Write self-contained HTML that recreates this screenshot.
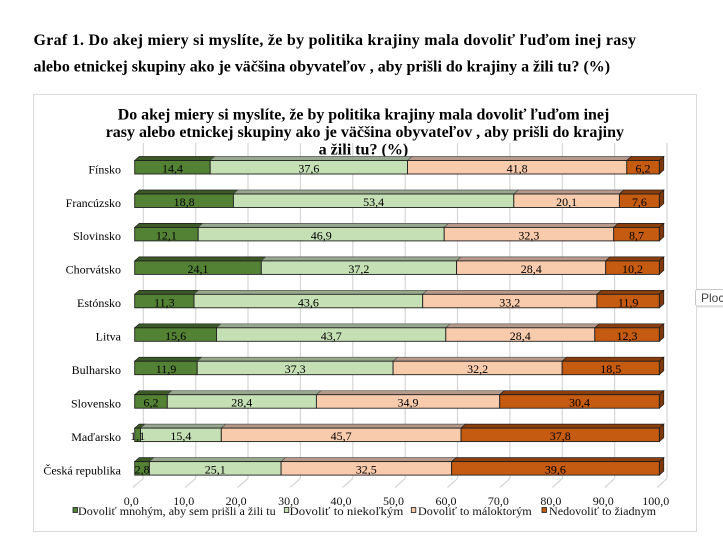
<!DOCTYPE html>
<html>
<head>
<meta charset="utf-8">
<style>
html,body{margin:0;padding:0;background:#fff;}
svg{display:block;}
.f1{fill:#548235;stroke:#1e1e1e;stroke-width:0.9}
.f2{fill:#C5E0B4;stroke:#1e1e1e;stroke-width:0.9}
.f3{fill:#F8CBAD;stroke:#1e1e1e;stroke-width:0.9}
.f4{fill:#C55A11;stroke:#1e1e1e;stroke-width:0.9}
.t1{fill:#3b5a26;stroke:#1e1e1e;stroke-width:0.7}
.t2{fill:#97a88c;stroke:#555;stroke-width:0.7}
.t3{fill:#b7998a;stroke:#555;stroke-width:0.7}
.t4{fill:#8c3f0c;stroke:#1e1e1e;stroke-width:0.7}
.s4{fill:#7d380b;stroke:#1e1e1e;stroke-width:0.7}
.v{font-family:"Liberation Serif",serif;font-size:12px;fill:#000;text-anchor:middle}
.c{font-family:"Liberation Serif",serif;font-size:12px;fill:#000;text-anchor:end}
.tk{font-family:"Liberation Serif",serif;font-size:12px;fill:#111;text-anchor:middle}
.lg{font-family:"Liberation Serif",serif;font-size:12px;fill:#111}
.h{font-family:"Liberation Serif",serif;font-size:16px;font-weight:bold;fill:#000}
.g{stroke:#d6d6d6;stroke-width:1.2}
</style>
</head>
<body>
<svg width="723" height="548" viewBox="0 0 723 548" xmlns="http://www.w3.org/2000/svg">
<rect x="0" y="0" width="723" height="548" fill="#fff"/>

<!-- header -->
<text class="h" x="33.5" y="45" textLength="602.5" lengthAdjust="spacing">Graf 1. Do akej miery si myslíte, že by politika krajiny mala dovoliť ľuďom inej rasy</text>
<text class="h" x="33.5" y="71.5" textLength="576.5" lengthAdjust="spacingAndGlyphs">alebo etnickej skupiny ako je väčšina obyvateľov , aby prišli do krajiny a žili tu? (%)</text>

<!-- chart box -->
<rect x="33.5" y="94.5" width="663" height="437" fill="#fff" stroke="#d9d9d9" stroke-width="1"/>

<!-- gridlines (back wall) -->
<g class="g">
<line x1="143.3" y1="143" x2="143.3" y2="478.5"/>
<line x1="195.7" y1="143" x2="195.7" y2="478.5"/>
<line x1="248.0" y1="143" x2="248.0" y2="478.5"/>
<line x1="300.4" y1="143" x2="300.4" y2="478.5"/>
<line x1="352.8" y1="143" x2="352.8" y2="478.5"/>
<line x1="405.2" y1="143" x2="405.2" y2="478.5"/>
<line x1="457.5" y1="143" x2="457.5" y2="478.5"/>
<line x1="509.9" y1="143" x2="509.9" y2="478.5"/>
<line x1="562.3" y1="143" x2="562.3" y2="478.5"/>
<line x1="614.6" y1="143" x2="614.6" y2="478.5"/>
<line x1="667.0" y1="143" x2="667.0" y2="478.5"/>
<!-- floor -->
<line x1="132.7" y1="487.5" x2="143.3" y2="478.5"/>
<line x1="185.2" y1="487.5" x2="195.7" y2="478.5"/>
<line x1="237.6" y1="487.5" x2="248.0" y2="478.5"/>
<line x1="290.1" y1="487.5" x2="300.4" y2="478.5"/>
<line x1="342.5" y1="487.5" x2="352.8" y2="478.5"/>
<line x1="395.0" y1="487.5" x2="405.2" y2="478.5"/>
<line x1="447.5" y1="487.5" x2="457.5" y2="478.5"/>
<line x1="499.9" y1="487.5" x2="509.9" y2="478.5"/>
<line x1="552.4" y1="487.5" x2="562.3" y2="478.5"/>
<line x1="604.8" y1="487.5" x2="614.6" y2="478.5"/>
<line x1="657.3" y1="487.5" x2="667.0" y2="478.5"/>
</g>

<!-- chart title -->
<text class="h" x="117.7" y="119.3" textLength="491.6" lengthAdjust="spacingAndGlyphs">Do akej miery si myslíte, že by politika krajiny mala dovoliť ľuďom inej</text>
<text class="h" x="105.7" y="137" textLength="518.3" lengthAdjust="spacingAndGlyphs">rasy alebo etnickej skupiny ako je väčšina obyvateľov , aby prišli do krajiny</text>
<text class="h" x="318.6" y="154.7" textLength="89.7" lengthAdjust="spacingAndGlyphs">a žili tu? (%)</text>

<!-- Row 0: Fínsko -->
<g transform="translate(0,160.5)">
<polygon class="t1" points="134.7,0 210.2,0 214.7,-4 139.2,-4"/>
<polygon class="t2" points="210.2,0 407.5,0 412,-4 214.7,-4"/>
<polygon class="t3" points="407.5,0 626.8,0 631.3,-4 412,-4"/>
<polygon class="t4" points="626.8,0 659.3,0 663.8,-4 631.3,-4"/>
<polygon class="s4" points="659.3,0 663.8,-4 663.8,9.5 659.3,13.5"/>
<rect class="f1" x="134.7" y="0" width="75.5" height="13.5"/>
<rect class="f2" x="210.2" y="0" width="197.3" height="13.5"/>
<rect class="f3" x="407.5" y="0" width="219.3" height="13.5"/>
<rect class="f4" x="626.8" y="0" width="32.5" height="13.5"/>
<text class="v" x="172.5" y="12">14,4</text>
<text class="v" x="308.9" y="12">37,6</text>
<text class="v" x="517.1" y="12">41,8</text>
<text class="v" x="643" y="12">6,2</text>
<text class="c" x="121" y="12.8">Fínsko</text>
</g>

<!-- Row 1: Francúzsko -->
<g transform="translate(0,194)">
<polygon class="t1" points="134.7,0 233.4,0 237.9,-4 139.2,-4"/>
<polygon class="t2" points="233.4,0 513.8,0 518.3,-4 237.9,-4"/>
<polygon class="t3" points="513.8,0 619.4,0 623.9,-4 518.3,-4"/>
<polygon class="t4" points="619.4,0 659.3,0 663.8,-4 623.9,-4"/>
<polygon class="s4" points="659.3,0 663.8,-4 663.8,9.5 659.3,13.5"/>
<rect class="f1" x="134.7" y="0" width="98.7" height="13.5"/>
<rect class="f2" x="233.4" y="0" width="280.4" height="13.5"/>
<rect class="f3" x="513.8" y="0" width="105.6" height="13.5"/>
<rect class="f4" x="619.4" y="0" width="39.9" height="13.5"/>
<text class="v" x="184.1" y="12">18,8</text>
<text class="v" x="373.6" y="12">53,4</text>
<text class="v" x="566.6" y="12">20,1</text>
<text class="v" x="639.4" y="12">7,6</text>
<text class="c" x="121" y="12.8">Francúzsko</text>
</g>

<!-- Row 2: Slovinsko -->
<g transform="translate(0,227.4)">
<polygon class="t1" points="134.7,0 198.2,0 202.7,-4 139.2,-4"/>
<polygon class="t2" points="198.2,0 444.2,0 448.7,-4 202.7,-4"/>
<polygon class="t3" points="444.2,0 613.7,0 618.2,-4 448.7,-4"/>
<polygon class="t4" points="613.7,0 659.3,0 663.8,-4 618.2,-4"/>
<polygon class="s4" points="659.3,0 663.8,-4 663.8,9.5 659.3,13.5"/>
<rect class="f1" x="134.7" y="0" width="63.5" height="13.5"/>
<rect class="f2" x="198.2" y="0" width="246" height="13.5"/>
<rect class="f3" x="444.2" y="0" width="169.5" height="13.5"/>
<rect class="f4" x="613.7" y="0" width="45.6" height="13.5"/>
<text class="v" x="166.4" y="12">12,1</text>
<text class="v" x="321.2" y="12">46,9</text>
<text class="v" x="528.9" y="12">32,3</text>
<text class="v" x="636.5" y="12">8,7</text>
<text class="c" x="121" y="12.8">Slovinsko</text>
</g>

<!-- Row 3: Chorvátsko -->
<g transform="translate(0,260.9)">
<polygon class="t1" points="134.7,0 261.3,0 265.8,-4 139.2,-4"/>
<polygon class="t2" points="261.3,0 456.6,0 461.1,-4 265.8,-4"/>
<polygon class="t3" points="456.6,0 605.7,0 610.2,-4 461.1,-4"/>
<polygon class="t4" points="605.7,0 659.3,0 663.8,-4 610.2,-4"/>
<polygon class="s4" points="659.3,0 663.8,-4 663.8,9.5 659.3,13.5"/>
<rect class="f1" x="134.7" y="0" width="126.6" height="13.5"/>
<rect class="f2" x="261.3" y="0" width="195.3" height="13.5"/>
<rect class="f3" x="456.6" y="0" width="149.1" height="13.5"/>
<rect class="f4" x="605.7" y="0" width="53.6" height="13.5"/>
<text class="v" x="198" y="12">24,1</text>
<text class="v" x="358.9" y="12">37,2</text>
<text class="v" x="531.2" y="12">28,4</text>
<text class="v" x="632.5" y="12">10,2</text>
<text class="c" x="121" y="12.8">Chorvátsko</text>
</g>

<!-- Row 4: Estónsko -->
<g transform="translate(0,294.3)">
<polygon class="t1" points="134.7,0 194,0 198.5,-4 139.2,-4"/>
<polygon class="t2" points="194,0 422.7,0 427.2,-4 198.5,-4"/>
<polygon class="t3" points="422.7,0 596.9,0 601.4,-4 427.2,-4"/>
<polygon class="t4" points="596.9,0 659.3,0 663.8,-4 601.4,-4"/>
<polygon class="s4" points="659.3,0 663.8,-4 663.8,9.5 659.3,13.5"/>
<rect class="f1" x="134.7" y="0" width="59.3" height="13.5"/>
<rect class="f2" x="194" y="0" width="228.7" height="13.5"/>
<rect class="f3" x="422.7" y="0" width="174.2" height="13.5"/>
<rect class="f4" x="596.9" y="0" width="62.4" height="13.5"/>
<text class="v" x="164.3" y="12">11,3</text>
<text class="v" x="308.4" y="12">43,6</text>
<text class="v" x="509.8" y="12">33,2</text>
<text class="v" x="628.1" y="12">11,9</text>
<text class="c" x="121" y="12.8">Estónsko</text>
</g>

<!-- Row 5: Litva -->
<g transform="translate(0,327.8)">
<polygon class="t1" points="134.7,0 216.5,0 221,-4 139.2,-4"/>
<polygon class="t2" points="216.5,0 445.8,0 450.3,-4 221,-4"/>
<polygon class="t3" points="445.8,0 594.8,0 599.3,-4 450.3,-4"/>
<polygon class="t4" points="594.8,0 659.3,0 663.8,-4 599.3,-4"/>
<polygon class="s4" points="659.3,0 663.8,-4 663.8,9.5 659.3,13.5"/>
<rect class="f1" x="134.7" y="0" width="81.8" height="13.5"/>
<rect class="f2" x="216.5" y="0" width="229.3" height="13.5"/>
<rect class="f3" x="445.8" y="0" width="149" height="13.5"/>
<rect class="f4" x="594.8" y="0" width="64.5" height="13.5"/>
<text class="v" x="175.6" y="12">15,6</text>
<text class="v" x="331.2" y="12">43,7</text>
<text class="v" x="520.3" y="12">28,4</text>
<text class="v" x="627" y="12">12,3</text>
<text class="c" x="121" y="12.8">Litva</text>
</g>

<!-- Row 6: Bulharsko -->
<g transform="translate(0,361.2)">
<polygon class="t1" points="134.7,0 197.2,0 201.7,-4 139.2,-4"/>
<polygon class="t2" points="197.2,0 393.1,0 397.6,-4 201.7,-4"/>
<polygon class="t3" points="393.1,0 562.2,0 566.7,-4 397.6,-4"/>
<polygon class="t4" points="562.2,0 659.3,0 663.8,-4 566.7,-4"/>
<polygon class="s4" points="659.3,0 663.8,-4 663.8,9.5 659.3,13.5"/>
<rect class="f1" x="134.7" y="0" width="62.5" height="13.5"/>
<rect class="f2" x="197.2" y="0" width="195.9" height="13.5"/>
<rect class="f3" x="393.1" y="0" width="169.1" height="13.5"/>
<rect class="f4" x="562.2" y="0" width="97.1" height="13.5"/>
<text class="v" x="166" y="12">11,9</text>
<text class="v" x="295.1" y="12">37,3</text>
<text class="v" x="477.6" y="12">32,2</text>
<text class="v" x="610.7" y="12">18,5</text>
<text class="c" x="121" y="12.8">Bulharsko</text>
</g>

<!-- Row 7: Slovensko -->
<g transform="translate(0,394.7)">
<polygon class="t1" points="134.7,0 167.3,0 171.8,-4 139.2,-4"/>
<polygon class="t2" points="167.3,0 316.4,0 320.9,-4 171.8,-4"/>
<polygon class="t3" points="316.4,0 499.7,0 504.2,-4 320.9,-4"/>
<polygon class="t4" points="499.7,0 659.3,0 663.8,-4 504.2,-4"/>
<polygon class="s4" points="659.3,0 663.8,-4 663.8,9.5 659.3,13.5"/>
<rect class="f1" x="134.7" y="0" width="32.6" height="13.5"/>
<rect class="f2" x="167.3" y="0" width="149.1" height="13.5"/>
<rect class="f3" x="316.4" y="0" width="183.3" height="13.5"/>
<rect class="f4" x="499.7" y="0" width="159.6" height="13.5"/>
<text class="v" x="151" y="12">6,2</text>
<text class="v" x="241.8" y="12">28,4</text>
<text class="v" x="408" y="12">34,9</text>
<text class="v" x="579.5" y="12">30,4</text>
<text class="c" x="121" y="12.8">Slovensko</text>
</g>

<!-- Row 8: Maďarsko -->
<g transform="translate(0,428.1)">
<polygon class="t1" points="134.7,0 140.5,0 145,-4 139.2,-4"/>
<polygon class="t2" points="140.5,0 221.3,0 225.8,-4 145,-4"/>
<polygon class="t3" points="221.3,0 461,0 465.5,-4 225.8,-4"/>
<polygon class="t4" points="461,0 659.3,0 663.8,-4 465.5,-4"/>
<polygon class="s4" points="659.3,0 663.8,-4 663.8,9.5 659.3,13.5"/>
<rect class="f1" x="134.7" y="0" width="5.8" height="13.5"/>
<rect class="f2" x="140.5" y="0" width="80.8" height="13.5"/>
<rect class="f3" x="221.3" y="0" width="239.7" height="13.5"/>
<rect class="f4" x="461" y="0" width="198.3" height="13.5"/>
<text class="v" x="137.6" y="12">1,1</text>
<text class="v" x="180.9" y="12">15,4</text>
<text class="v" x="341.1" y="12">45,7</text>
<text class="v" x="560.2" y="12">37,8</text>
<text class="c" x="121" y="12.8">Maďarsko</text>
</g>

<!-- Row 9: Česká republika -->
<g transform="translate(0,461.6)">
<polygon class="t1" points="134.7,0 149.4,0 153.9,-4 139.2,-4"/>
<polygon class="t2" points="149.4,0 281.1,0 285.6,-4 153.9,-4"/>
<polygon class="t3" points="281.1,0 451.6,0 456.1,-4 285.6,-4"/>
<polygon class="t4" points="451.6,0 659.3,0 663.8,-4 456.1,-4"/>
<polygon class="s4" points="659.3,0 663.8,-4 663.8,9.5 659.3,13.5"/>
<rect class="f1" x="134.7" y="0" width="14.7" height="13.5"/>
<rect class="f2" x="149.4" y="0" width="131.7" height="13.5"/>
<rect class="f3" x="281.1" y="0" width="170.5" height="13.5"/>
<rect class="f4" x="451.6" y="0" width="207.7" height="13.5"/>
<text class="v" x="142.1" y="12">2,8</text>
<text class="v" x="215.2" y="12">25,1</text>
<text class="v" x="366.3" y="12">32,5</text>
<text class="v" x="555.4" y="12">39,6</text>
<text class="c" x="121" y="12.8">Česká republika</text>
</g>

<!-- tick labels -->
<text class="tk" x="131.2" y="505">0,0</text>
<text class="tk" x="183.7" y="505">10,0</text>
<text class="tk" x="236.1" y="505">20,0</text>
<text class="tk" x="288.6" y="505">30,0</text>
<text class="tk" x="341.0" y="505">40,0</text>
<text class="tk" x="393.5" y="505">50,0</text>
<text class="tk" x="446.0" y="505">60,0</text>
<text class="tk" x="498.4" y="505">70,0</text>
<text class="tk" x="550.9" y="505">80,0</text>
<text class="tk" x="603.3" y="505">90,0</text>
<text class="tk" x="655.8" y="505">100,0</text>

<!-- legend -->
<rect x="73" y="507.5" width="4.5" height="5" fill="#548235" stroke="#1e1e1e" stroke-width="0.8"/>
<text class="lg" x="78" y="515" textLength="197.7" lengthAdjust="spacingAndGlyphs">Dovoliť mnohým, aby sem prišli a žili tu</text>
<rect x="284.3" y="507.5" width="4.5" height="5" fill="#C5E0B4" stroke="#1e1e1e" stroke-width="0.8"/>
<text class="lg" x="289.5" y="515" textLength="113.8" lengthAdjust="spacingAndGlyphs">Dovoliť to niekoľkým</text>
<rect x="411.3" y="507.5" width="4.5" height="5" fill="#F8CBAD" stroke="#1e1e1e" stroke-width="0.8"/>
<text class="lg" x="418" y="515" textLength="113.7" lengthAdjust="spacingAndGlyphs">Dovoliť to máloktorým</text>
<rect x="542" y="507.5" width="4.5" height="5" fill="#C55A11" stroke="#1e1e1e" stroke-width="0.8"/>
<text class="lg" x="549" y="515" textLength="107" lengthAdjust="spacingAndGlyphs">Nedovoliť to žiadnym</text>

<!-- tooltip -->
<rect x="696.5" y="291" width="30" height="17" fill="#e6e6e6" opacity="0.6"/>
<rect x="695.5" y="289.5" width="30" height="16.5" rx="2" fill="#fff" stroke="#c8c8c8" stroke-width="1"/>
<text x="701" y="302" font-family="Liberation Sans, sans-serif" font-size="12" fill="#444">Ploc</text>
</svg>
</body>
</html>
